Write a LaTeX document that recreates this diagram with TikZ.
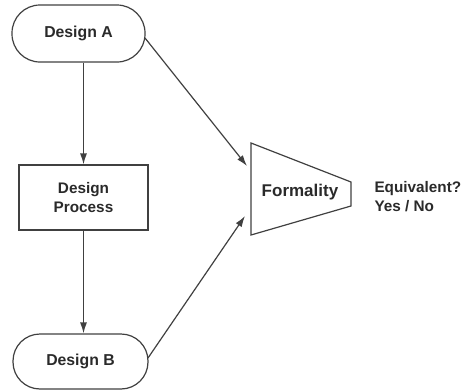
\documentclass[tikz,border=0pt]{standalone}
\usepackage{fontspec}
\setmainfont{Liberation Sans}
\usetikzlibrary{arrows.meta}
\definecolor{linecol}{HTML}{404040}
\definecolor{textcol}{HTML}{2A2A2A}
\begin{document}
\begin{tikzpicture}[x=1pt,y=-1pt,
  term/.style={draw=linecol, line width=1.2pt, text=textcol,
    font=\fontsize{15.8}{18}\selectfont\bfseries, inner sep=0pt},
  procbox/.style={draw=linecol, line width=1.2pt, text=textcol, align=center,
    font=\fontsize{15.3}{19}\selectfont\bfseries, inner sep=0pt,
    minimum width=129pt, minimum height=65pt},
  arr/.style={draw=linecol, line width=1.2pt, -{Latex[length=11pt,width=7pt]}},
  lbl/.style={text=textcol, font=\fontsize{15.3}{19}\selectfont\bfseries, align=left}]
\useasboundingbox (0,0) rectangle (461,391);
\node[term, minimum width=133pt, minimum height=57pt, rounded corners=28pt] (A) at (78.5,33.5) {Design A};
\node[procbox] (P) at (83.5,197.5) {Design\\Process};
\node[term, minimum width=135pt, minimum height=55pt, rounded corners=27pt] (B) at (80.5,361.5) {Design B};
\coordinate (t1) at (251,143);
\coordinate (t2) at (351,182);
\coordinate (t3) at (351,206);
\coordinate (t4) at (251,235);
\draw[linecol, line width=1.2pt, line join=miter] (t1) -- (t2) -- (t3) -- (t4) -- cycle;
\node[text=textcol, font=\fontsize{17}{19}\selectfont\bfseries] (F) at (300,192) {Formality};
\node[lbl, anchor=west] (E) at (371,197) {Equivalent?\\Yes / No};
\coordinate (in1) at (247,166);
\coordinate (in2) at (245,216);
\coordinate (oA) at (145,38);
\coordinate (oB) at (148,358);
\draw[arr] (P.north |- A.south) -- (P.north);
\draw[arr] (P.south) -- (P.south |- B.north);
\draw[arr] (oA) -- (in1);
\draw[arr] (oB) -- (in2);
\end{tikzpicture}
\end{document}
